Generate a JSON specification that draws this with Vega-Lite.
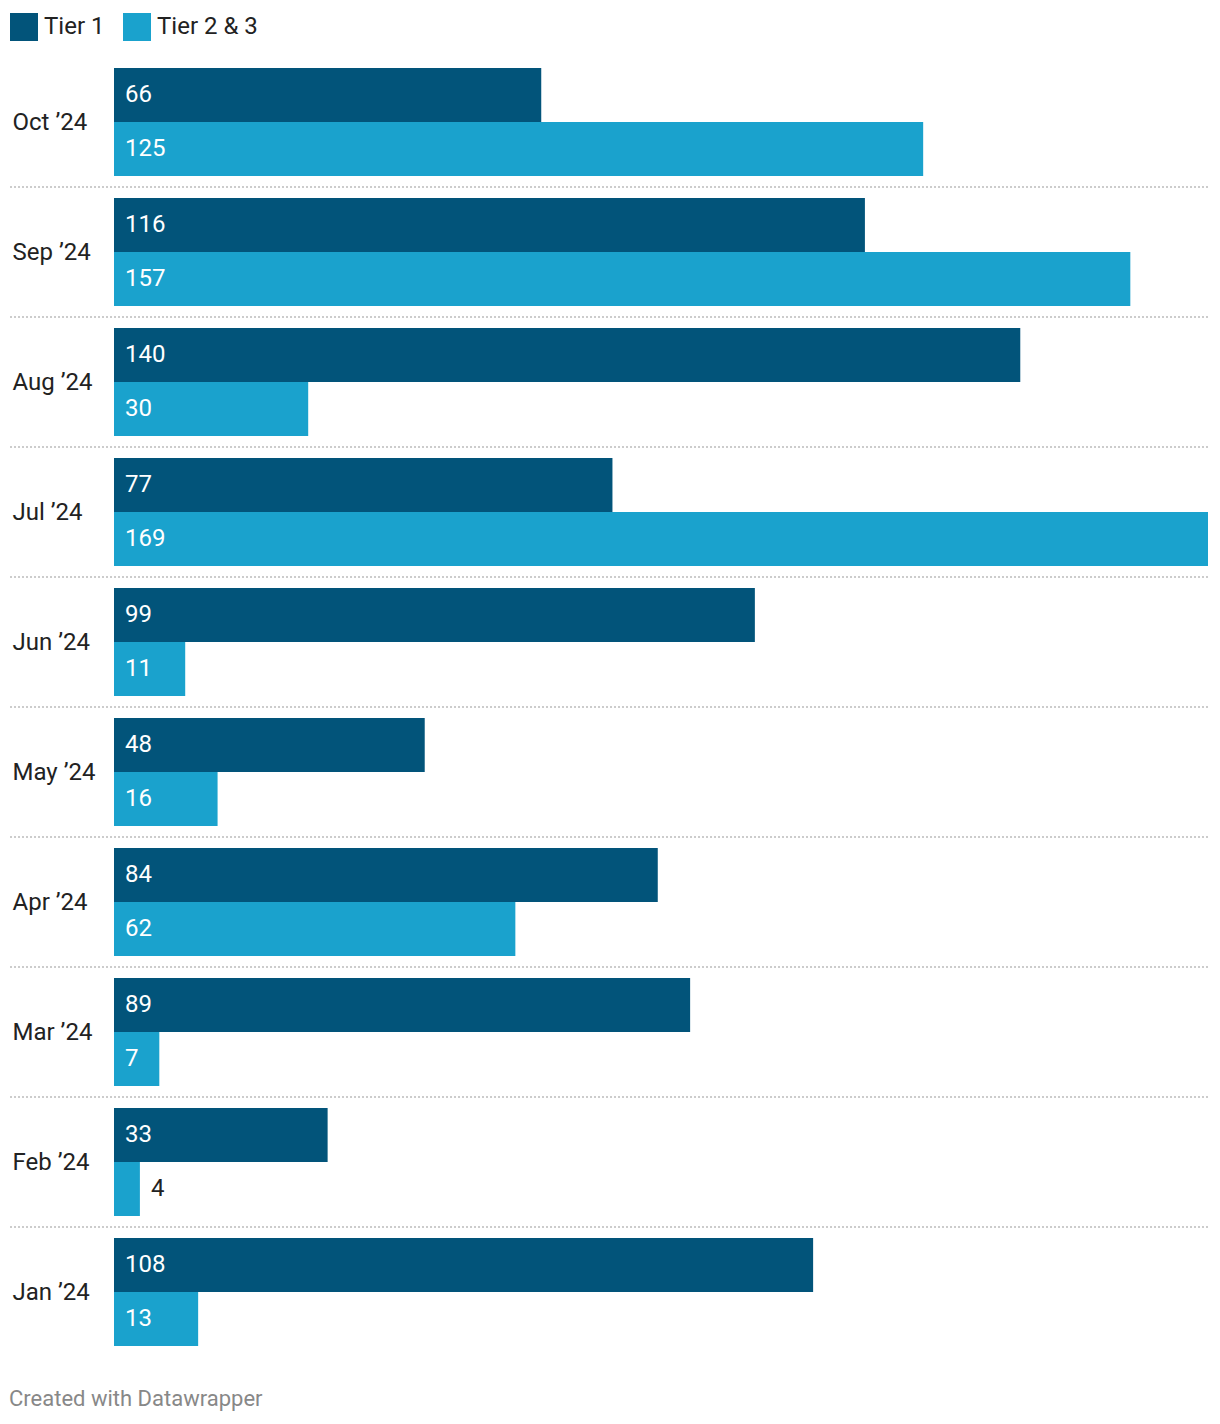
{
  "$schema": "https://vega.github.io/schema/vega-lite/v6.json",
  "width": 1198,
  "height": 1300,
  "autosize": {"type": "none"},
  "padding": {"left": 10, "top": 57, "right": 12, "bottom": 67},
  "background": "white",
  "config": {
    "font": "Roboto",
    "view": {"stroke": null},
    "text": {"font": "Roboto"}
  },
  "title": {
    "text": "Created with Datawrapper",
    "orient": "bottom",
    "anchor": "start",
    "font": "Roboto",
    "fontSize": 22,
    "fontWeight": "normal",
    "color": "#888888",
    "offset": 32,
    "dx": 0
  },
  "data": {
    "values": [
      {"month": "Oct ’24", "tier": "Tier 1", "value": 66},
      {"month": "Oct ’24", "tier": "Tier 2 & 3", "value": 125},
      {"month": "Sep ’24", "tier": "Tier 1", "value": 116},
      {"month": "Sep ’24", "tier": "Tier 2 & 3", "value": 157},
      {"month": "Aug ’24", "tier": "Tier 1", "value": 140},
      {"month": "Aug ’24", "tier": "Tier 2 & 3", "value": 30},
      {"month": "Jul ’24", "tier": "Tier 1", "value": 77},
      {"month": "Jul ’24", "tier": "Tier 2 & 3", "value": 169},
      {"month": "Jun ’24", "tier": "Tier 1", "value": 99},
      {"month": "Jun ’24", "tier": "Tier 2 & 3", "value": 11},
      {"month": "May ’24", "tier": "Tier 1", "value": 48},
      {"month": "May ’24", "tier": "Tier 2 & 3", "value": 16},
      {"month": "Apr ’24", "tier": "Tier 1", "value": 84},
      {"month": "Apr ’24", "tier": "Tier 2 & 3", "value": 62},
      {"month": "Mar ’24", "tier": "Tier 1", "value": 89},
      {"month": "Mar ’24", "tier": "Tier 2 & 3", "value": 7},
      {"month": "Feb ’24", "tier": "Tier 1", "value": 33},
      {"month": "Feb ’24", "tier": "Tier 2 & 3", "value": 4},
      {"month": "Jan ’24", "tier": "Tier 1", "value": 108},
      {"month": "Jan ’24", "tier": "Tier 2 & 3", "value": 13}
    ]
  },
  "encoding": {
    "y": {
      "field": "month",
      "type": "nominal",
      "sort": null,
      "scale": {"paddingInner": 0, "paddingOuter": 0},
      "axis": {
        "title": null,
        "domain": false,
        "ticks": false,
        "grid": false,
        "labelAlign": "left",
        "labelPadding": -2,
        "labelOffset": 1,
        "labelFont": "Roboto",
        "labelFontSize": 24,
        "labelColor": "#222222"
      }
    },
    "yOffset": {
      "field": "tier",
      "type": "nominal",
      "sort": ["Tier 1", "Tier 2 & 3"],
      "scale": {"paddingInner": 0, "paddingOuter": 0.2037}
    }
  },
  "layer": [
    {
      "mark": {"type": "rule", "stroke": "#cccccc", "strokeWidth": 2, "strokeDash": [2, 2]},
      "transform": [{"filter": "datum.tier === 'Tier 1' && datum.month !== 'Jan ’24'"}],
      "encoding": {
        "y": {"field": "month", "type": "nominal", "sort": null, "bandPosition": 1},
        "yOffset": null
      }
    },
    {
      "mark": {"type": "bar", "cornerRadius": 0},
      "encoding": {
        "x": {
          "field": "value",
          "type": "quantitative",
          "scale": {"domain": [-16.066, 169], "nice": false, "zero": false},
          "axis": null
        },
        "color": {
          "field": "tier",
          "type": "nominal",
          "scale": {"domain": ["Tier 1", "Tier 2 & 3"], "range": ["#02547a", "#1aa2cd"]},
          "legend": {
            "title": null,
            "orient": "top",
            "direction": "horizontal",
            "symbolType": "square",
            "symbolSize": 784,
            "symbolStrokeWidth": 0,
            "symbolOpacity": 1,
            "labelFont": "Roboto",
            "labelFontSize": 24,
            "labelColor": "#222222",
            "labelOffset": 6,
            "columnPadding": 18,
            "offset": 16,
            "padding": 0
          }
        }
      }
    },
    {
      "transform": [{"filter": "datum.value >= 5"}],
      "mark": {"type": "text", "align": "left", "baseline": "middle", "dx": 11, "fontSize": 24, "color": "white", "font": "Roboto"},
      "encoding": {
        "x": {"datum": 0, "type": "quantitative"},
        "text": {"field": "value", "type": "quantitative"}
      }
    },
    {
      "transform": [{"filter": "datum.value < 5"}],
      "mark": {"type": "text", "align": "left", "baseline": "middle", "dx": 11, "fontSize": 24, "color": "#222222", "font": "Roboto"},
      "encoding": {
        "x": {"field": "value", "type": "quantitative"},
        "text": {"field": "value", "type": "quantitative"}
      }
    }
  ]
}
